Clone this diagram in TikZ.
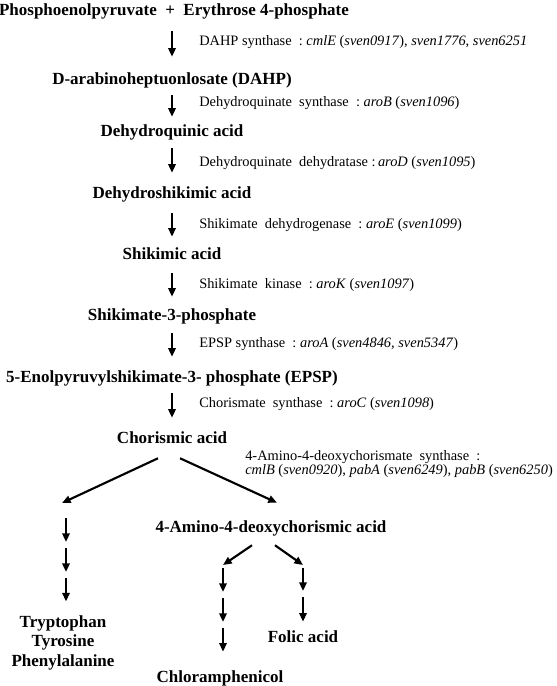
\documentclass[tikz,border=0pt]{standalone}
\usepackage{fontspec}
\setmainfont{LiberationSerif}[Extension=.ttf, UprightFont=*-Regular, BoldFont=*-Bold, ItalicFont=*-Italic, BoldItalicFont=*-BoldItalic]
\usetikzlibrary{arrows.meta}
\begin{document}
\begin{tikzpicture}[x=0.75pt, y=-0.75pt,
  cmpd/.style={font=\fontsize{12.75}{14.6}\selectfont\bfseries, inner sep=0pt, text height=9pt, text depth=3pt},
  cmpdlist/.style={font=\fontsize{12.75}{14.6}\selectfont\bfseries, inner sep=0pt, align=center},
  enz/.style={font=\fontsize{10.8}{11.2}\selectfont, inner sep=0pt, anchor=west, align=left},
  stepline/.style={line width=1.6pt, -{Triangle[width=5.5pt,length=6.5pt]}},
  chainstep/.style={stepline, shorten <=2.25pt, shorten >=2.25pt}]
\useasboundingbox (0,0) rectangle (557,686);

\node[cmpd] (pep) at (174,11.5) {Phosphoenolpyruvate\ \ +\ \ Erythrose 4-phosphate};
\node[cmpd] (dahp) at (172,80.5) {D-arabinoheptuonlosate (DAHP)};
\node[cmpd] (dhq) at (172,132.5) {Dehydroquinic acid};
\node[cmpd] (dhs) at (172,194.5) {Dehydroshikimic acid};
\node[cmpd] (shik) at (172,255.5) {Shikimic acid};
\node[cmpd] (s3p) at (172,316.5) {Shikimate-3-phosphate};
\node[cmpd] (epsp) at (172,378.5) {5-Enolpyruvylshikimate-3- phosphate (EPSP)};
\node[cmpd] (chor) at (172,439.5) {Chorismic acid};
\node[cmpd] (amino) at (271,528.5) {4-Amino-4-deoxychorismic acid};
\node[cmpdlist] (trp) at (63,642.5) {Tryptophan\\Tyrosine\\Phenylalanine};
\node[cmpd] (folic) at (303,638.5) {Folic acid};
\node[cmpd] (chl) at (220,678.5) {Chloramphenicol};

\node[enz] (e1) at (199,42) {DAHP synthase\ \ :\ \textit{cmlE} (\textit{sven0917}), \textit{sven1776}, \textit{sven6251}};
\node[enz] (e2) at (199,103) {Dehydroquinate\ \ synthase\ \ :\ \textit{aroB} (\textit{sven1096})};
\node[enz] (e3) at (199,163) {Dehydroquinate\ \ dehydratase\ :\,\textit{aroD} (\textit{sven1095})};
\node[enz] (e4) at (199,225) {Shikimate\ \ dehydrogenase\ \ :\ \textit{aroE} (\textit{sven1099})};
\node[enz] (e5) at (199,285) {Shikimate\ \ kinase\ \ :\ \textit{aroK} (\textit{sven1097})};
\node[enz] (e6) at (199,344) {EPSP synthase\ \ :\ \textit{aroA} (\textit{sven4846}, \textit{sven5347})};
\node[enz] (e7) at (199,404) {Chorismate\ \ synthase\ \ :\ \textit{aroC} (\textit{sven1098})};
\node[enz] (e8) at (245,464) {4-Amino-4-deoxychorismate\ \ synthase\ \ :\\
  \textit{cmlB} (\textit{sven0920}), \textit{pabA} (\textit{sven6249}), \textit{pabB} (\textit{sven6250})};

\draw[stepline, shorten <=8.6pt, shorten >=11.6pt] (pep.south -| dahp) -- (dahp);
\draw[stepline, shorten <=4.9pt, shorten >=5.6pt] (dahp) -- (dhq);
\draw[stepline, shorten <=5.6pt, shorten >=10.1pt] (dhq) -- (dhs);
\draw[stepline, shorten <=7.9pt, shorten >=7.9pt] (dhs) -- (shik);
\draw[stepline, shorten <=7.1pt, shorten >=8.6pt] (shik) -- (s3p);
\draw[stepline, shorten <=6.4pt, shorten >=10.1pt] (s3p) -- (epsp);
\draw[stepline, shorten <=4.9pt, shorten >=10.1pt] (epsp) -- (chor);

\coordinate (trpin) at (62,503);
\draw[stepline] ([shift={(-14,10.5)}]chor.south) -- (trpin);
\draw[stepline] ([shift={(8,10.5)}]chor.south) -- ([shift={(6,-17.5)}]amino.north);

\coordinate (trp0) at (66,515);
\coordinate (trp1) at (66,545);
\coordinate (trp2) at (66,575);
\draw[chainstep] (trp0) -- (trp1);
\draw[chainstep] (trp1) -- (trp2);
\draw[chainstep, shorten >=10.2pt] (trp2) -- (trp.north -| trp2);

\coordinate (chl0) at (223,565);
\coordinate (chl1) at (223,595);
\coordinate (chl2) at (223,625);
\coordinate (fol0) at (303,565);
\coordinate (fol1) at (303,594);
\draw[stepline] ([shift={(-19,8.5)}]amino.south) -- (chl0);
\draw[stepline] ([shift={(4,8.5)}]amino.south) -- (fol0);
\draw[chainstep] (chl0) -- (chl1);
\draw[chainstep] (chl1) -- (chl2);
\draw[chainstep, shorten >=13.9pt] (chl2) -- (chl.north -| chl2);
\draw[chainstep] (fol0) -- (fol1);
\draw[chainstep, shorten >=6.4pt] (fol1) -- (folic.north -| fol1);
\end{tikzpicture}
\end{document}
